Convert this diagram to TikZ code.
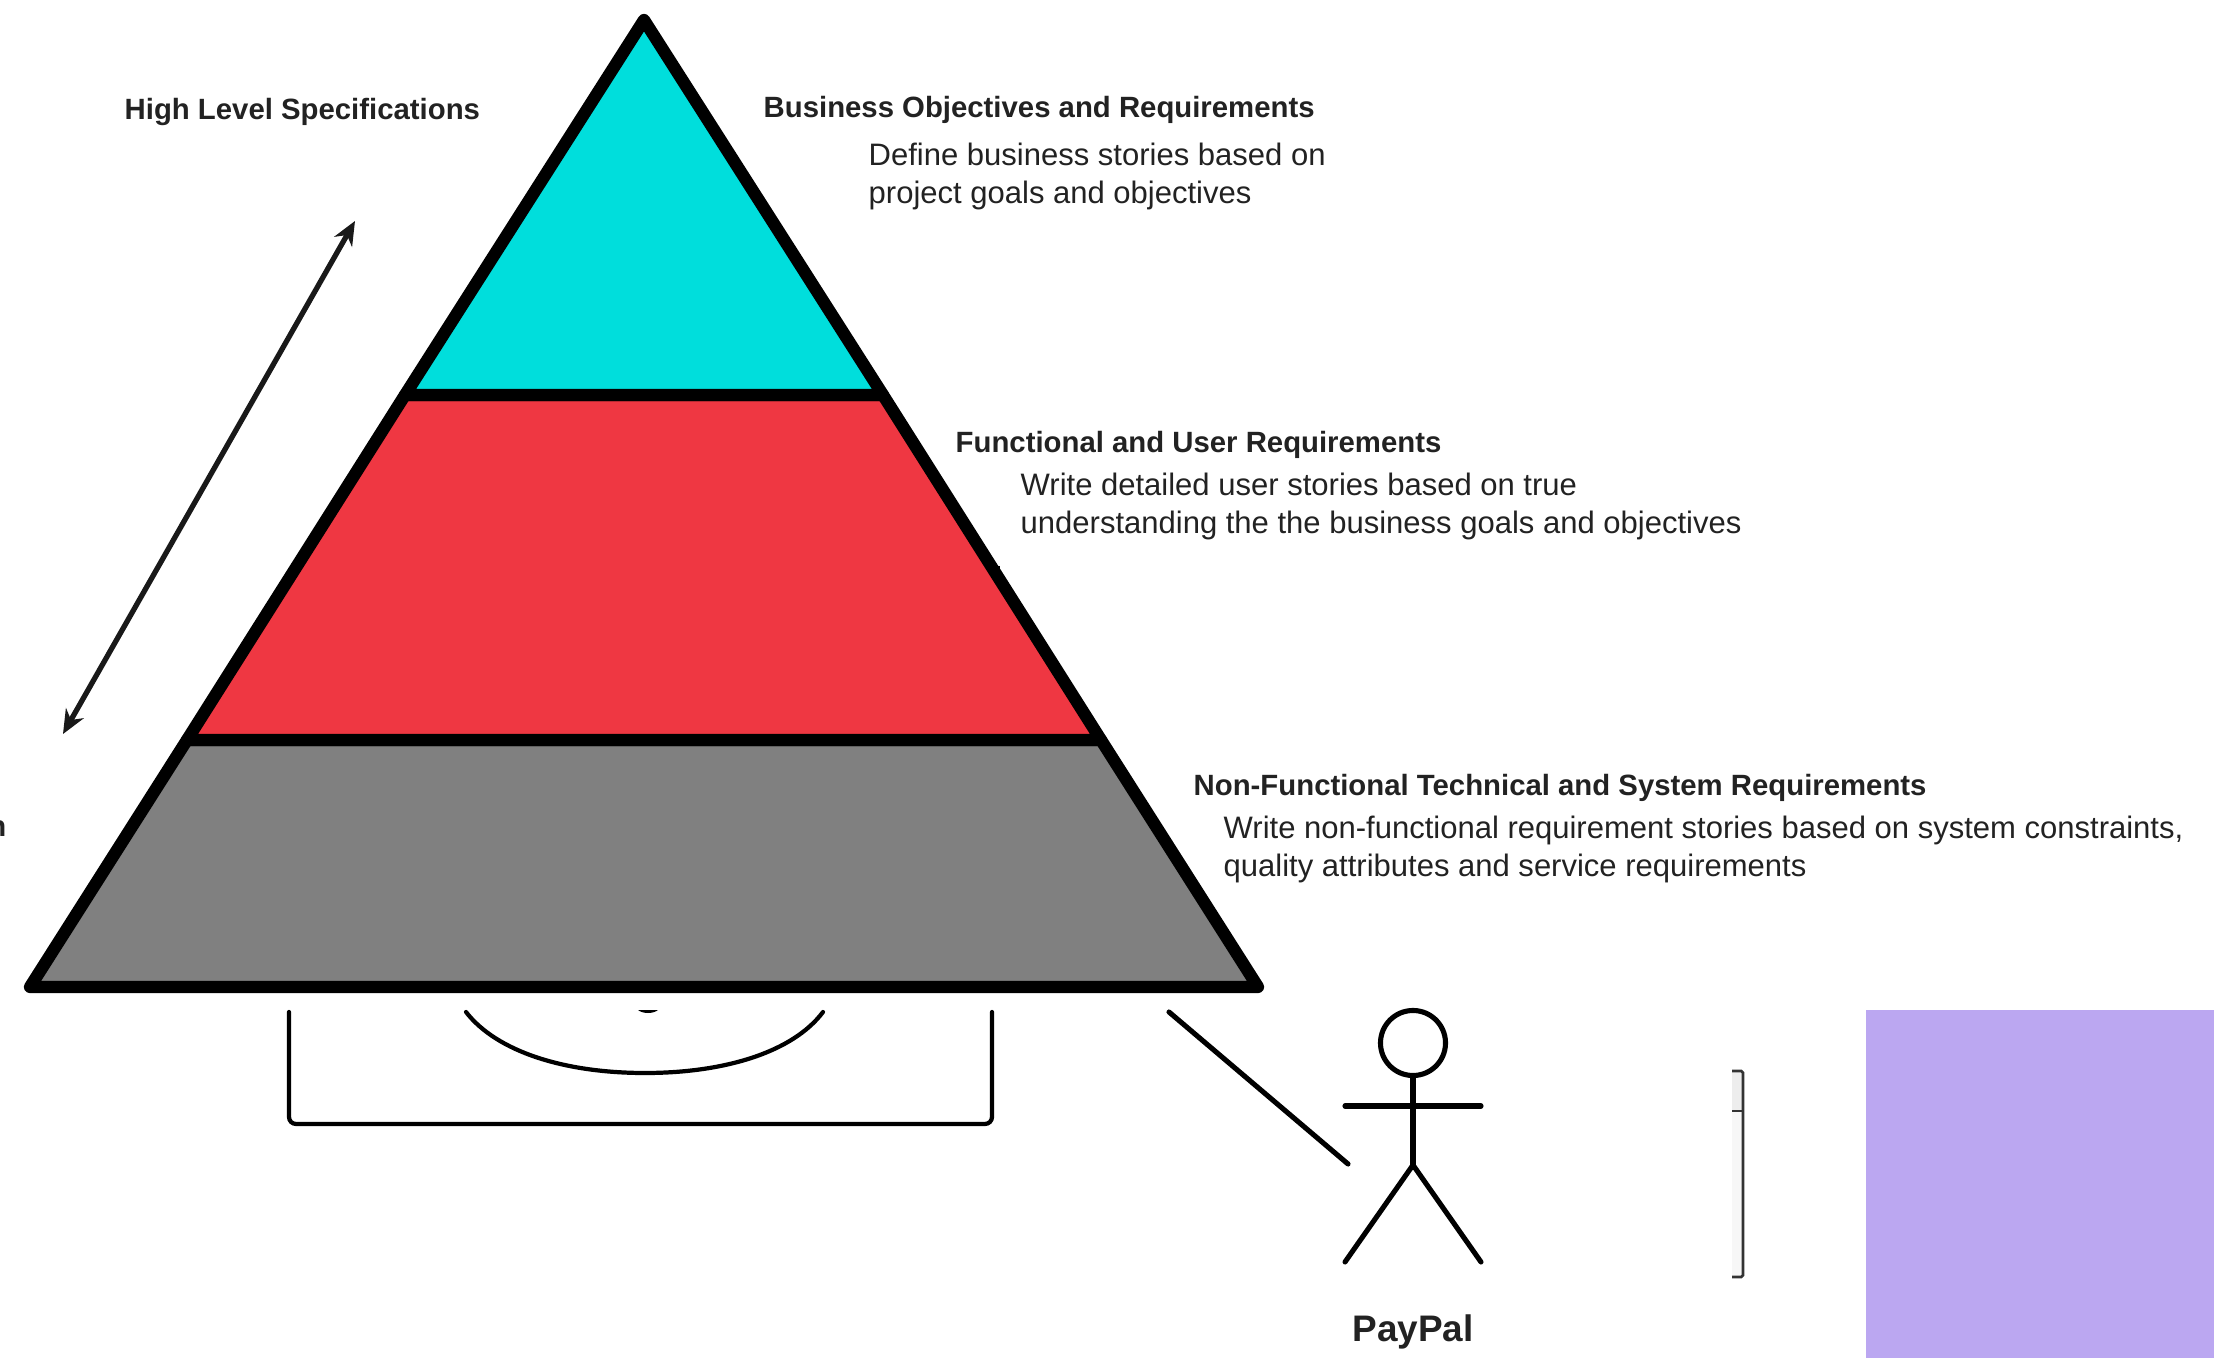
\documentclass[tikz,border=0pt]{standalone}
\usepackage{fontspec}
\usetikzlibrary{arrows.meta}
\setmainfont{Liberation Sans}
\definecolor{topcyan}{HTML}{00DEDC}
\definecolor{midred}{HTML}{EF3742}
\definecolor{lowgray}{HTML}{808080}
\definecolor{sidepurple}{HTML}{BBA7F1}
\definecolor{inktext}{HTML}{222222}
\tikzset{
	level/.style={draw=black, line width=3.5pt, line join=round},
	heading/.style={anchor=west, inner sep=0pt, text=inktext, font=\fontsize{8.34}{10.8}\selectfont\bfseries},
	detail/.style={anchor=west, inner sep=0pt, text=inktext, align=left, font=\fontsize{8.82}{10.8}\selectfont},
	sketch/.style={line width=1.2pt, line cap=round, black},
	actor/.style={line width=1.45pt, line cap=round, black}
}
\begin{document}
\begin{tikzpicture}[x=0.01cm, y=-0.01cm]
	\useasboundingbox (0, 0) rectangle (2214, 1358);
	\clip (0, 0) rectangle (2214, 1358);

	\fill[sidepurple] (1866, 1010) rectangle (2214, 1358);

	\coordinate (apex) at (644, 20);
	\coordinate (topl) at (405, 395);
	\coordinate (topr) at (883, 395);
	\coordinate (midl) at (187, 740);
	\coordinate (midr) at (1101, 740);
	\coordinate (lowl) at (30, 987);
	\coordinate (lowr) at (1258, 987);
	\filldraw[level, fill=lowgray] (midl) -- (midr) -- (lowr) -- (lowl) -- cycle;
	\filldraw[level, fill=midred] (topl) -- (topr) -- (midr) -- (midl) -- cycle;
	\filldraw[level, fill=topcyan] (apex) -- (topr) -- (topl) -- cycle;
	\fill[black] (994, 566) rectangle (1000, 571);

	\coordinate (arrowup) at (355, 221);
	\coordinate (arrowdown) at (63, 734);
	\draw[{Stealth[length=6.8pt, width=5.8pt]}-{Stealth[length=6.8pt, width=5.8pt]}, line width=1.5pt, black!90] (arrowdown) -- (arrowup);

	\node[heading] (highlevel) at (124, 112) {High Level Specifications};
	\node[heading, anchor=east] (lowlevel) at (7, 829) {n};

	\node[heading] (business) at (763, 110) {Business Objectives and Requirements};
	\node[detail] (businessnote) at (868, 176) {Define business stories based on\\project goals and objectives};
	\node[heading] (functional) at (955, 445) {Functional and User Requirements};
	\node[detail] (functionalnote) at (1020, 506) {Write detailed user stories based on true\\understanding the the business goals and objectives};
	\node[heading] (technical) at (1193, 788) {Non-Functional Technical and System Requirements};
	\node[detail] (technicalnote) at (1223, 849) {Write non-functional requirement stories based on system constraints,\\quality attributes and service requirements};

	\draw[sketch, rounded corners=2pt] (289, 1012) -- (289, 1124) -- (992, 1124) -- (992, 1012);
	\draw[sketch] (466, 1012) .. controls (497, 1052) and (565, 1073) .. (645, 1073) .. controls (725, 1073) and (793, 1052) .. (823, 1012);
	\fill[black] (638, 1010) .. controls (643, 1014) and (653, 1014) .. (658, 1010) -- cycle;

	\node[circle, draw, actor, minimum size=0.65cm, inner sep=0pt] (head) at (1413, 1043) {};
	\coordinate (hip) at (1413, 1165);
	\coordinate (armleft) at (1345, 1106);
	\coordinate (armright) at (1481, 1106);
	\coordinate (footleft) at (1345, 1262);
	\coordinate (footright) at (1481, 1262);
	\coordinate (linkstart) at (1169, 1012);
	\coordinate (linkend) at (1348, 1164);
	\draw[actor] (head) -- (hip);
	\draw[actor] (armleft) -- (armright);
	\draw[actor] (footleft) -- (hip) -- (footright);
	\draw[actor] (linkstart) -- (linkend);
	\node[inner sep=0pt, text=inktext, font=\fontsize{10.5}{12}\selectfont\bfseries] (paypal) at (1413, 1332) {PayPal};

	\fill[black!7] (1732, 1070) rectangle (1743, 1111);
	\fill[black!3] (1732, 1111) rectangle (1743, 1277);
	\draw[line width=0.8pt, black!80, rounded corners=0.5pt] (1732, 1071) -- (1743, 1071) -- (1743, 1277) -- (1732, 1277);
	\draw[line width=0.8pt, black!80] (1732, 1111) -- (1743, 1111);
\end{tikzpicture}
\end{document}
